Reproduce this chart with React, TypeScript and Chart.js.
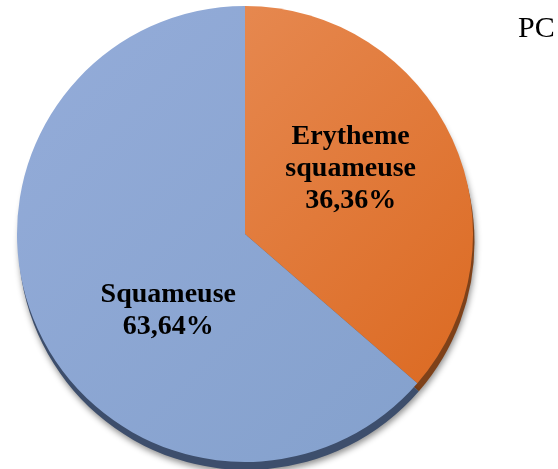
import React, { useEffect, useRef } from "react";
import { Chart, registerables } from "chart.js";

Chart.register(...registerables);

// ---- Data ----
const categories: string[] = ["Erytheme squameuse", "Squameuse"];
const categoryLines: string[][] = [["Erytheme", "squameuse"], ["Squameuse"]];
const values: number[] = [36.36, 63.64];
const sideText = "PC";

const fmtPct = (v: number) => v.toFixed(2).replace(".", ",") + "%";

const lightColors = ["#EA9360", "#94ACD9"];
const darkColors = ["#DA661C", "#83A0CC"];
const rimColors = ["#7E4119", "#3D4E6C"];

const labelOffsets = [
  { dx: 2, dy: -20 },
  { dx: 27, dy: 28 },
];

const shadowPlugin = {
  id: "pieRim",
  beforeDatasetsDraw(chart: any) {
    const meta = chart.getDatasetMeta(0);
    const ctx = chart.ctx as CanvasRenderingContext2D;
    ctx.save();
    meta.data.forEach((arc: any, i: number) => {
      const { x, y, startAngle, endAngle, outerRadius } = arc.getProps(
        ["x", "y", "startAngle", "endAngle", "outerRadius"],
        true
      );
      ctx.save();
      ctx.shadowColor = "rgba(0,0,0,0.45)";
      ctx.shadowBlur = 6;
      ctx.shadowOffsetX = 1;
      ctx.shadowOffsetY = 3;
      ctx.beginPath();
      ctx.moveTo(x + 1.5, y + 8);
      ctx.arc(x + 1.5, y + 8, outerRadius, startAngle, endAngle);
      ctx.closePath();
      ctx.fillStyle = rimColors[i];
      ctx.fill();
      ctx.restore();
    });
    ctx.restore();
  },
};

const labelPlugin = {
  id: "sliceLabels",
  afterDatasetsDraw(chart: any) {
    const meta = chart.getDatasetMeta(0);
    const ctx = chart.ctx as CanvasRenderingContext2D;
    ctx.save();
    ctx.font = 'bold 28px "Liberation Serif", "Times New Roman", serif';
    ctx.fillStyle = "#000000";
    ctx.textAlign = "center";
    ctx.textBaseline = "alphabetic";
    const lh = 32;
    const capHalf = 9;
    meta.data.forEach((arc: any, i: number) => {
      const p = arc.tooltipPosition(true);
      const off = labelOffsets[i];
      const lines = [...categoryLines[i], fmtPct(values[i])];
      const cx = p.x + off.dx;
      const cy = p.y + off.dy;
      lines.forEach((t, k) => {
        const by = cy + (k - (lines.length - 1) / 2) * lh + capHalf;
        ctx.fillText(t, cx, by);
      });
    });
    ctx.restore();
  },
};

export default function App() {
  const ref = useRef<HTMLCanvasElement>(null);

  useEffect(() => {
    if (!ref.current) return;
    const makeGrad = (ctx: any, i: number) => {
      const chart = ctx.chart;
      const area = chart.chartArea;
      if (!area) return lightColors[i];
      const g = chart.ctx.createLinearGradient(area.left, area.top, area.right, area.bottom);
      g.addColorStop(0, lightColors[i]);
      g.addColorStop(1, darkColors[i]);
      return g;
    };
    const chart = new Chart(ref.current, {
      type: "pie",
      data: {
        labels: categories,
        datasets: [
          {
            data: values,
            backgroundColor: (c: any) => makeGrad(c, c.dataIndex),
            borderWidth: 0,
          },
        ],
      },
      options: {
        responsive: false,
        animation: false,
        layout: { padding: { left: 17, right: 85, top: 6, bottom: 7 } },
        plugins: {
          legend: { display: false },
          tooltip: { enabled: false },
          title: { display: false },
        },
      },
      plugins: [shadowPlugin, labelPlugin],
    });
    return () => chart.destroy();
  }, []);

  return (
    <div style={{ position: "absolute", left: 0, top: 0, width: 558, height: 469, background: "#ffffff", overflow: "hidden" }}>
      <canvas ref={ref} width={558} height={469} style={{ display: "block" }} />
      <div
        style={{
          position: "absolute",
          left: 518,
          top: 10,
          fontFamily: '"Liberation Serif", "Times New Roman", serif',
          fontSize: 30,
          lineHeight: "34px",
          color: "#000000",
          whiteSpace: "nowrap",
        }}
      >
        {sideText}
      </div>
    </div>
  );
}
